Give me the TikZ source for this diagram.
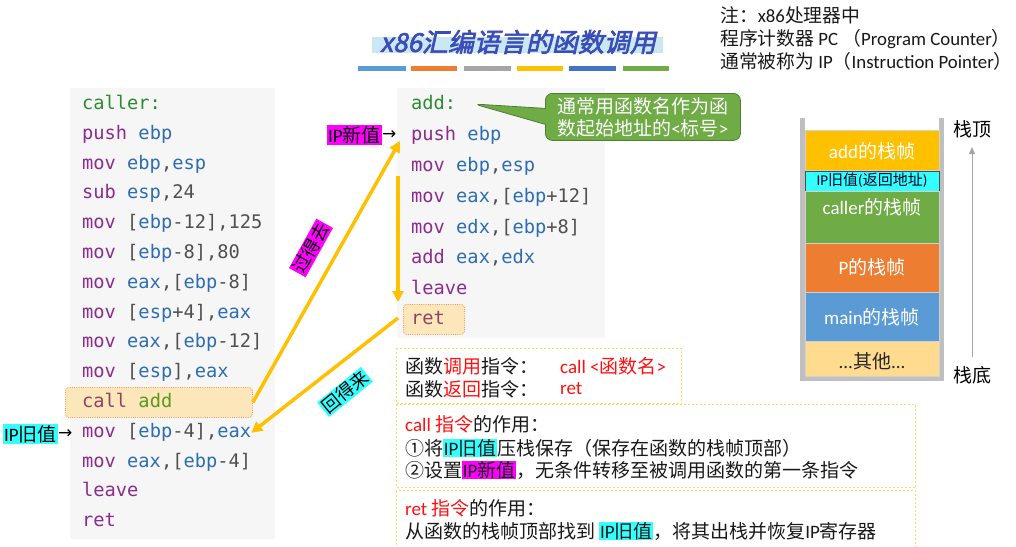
\documentclass[tikz,border=0pt]{standalone}
\usepackage{fontspec}
\setmainfont{Noto Sans CJK SC}
\setmonofont{DejaVu Sans Mono}
\newfontfamily\lat{Carlito}
\newfontfamily\titlefont[FakeBold=2.5,FakeSlant=0.22]{Noto Sans CJK SC}
\newfontfamily\dv{DejaVu Sans}
\usetikzlibrary{arrows.meta,shapes.callouts}
\definecolor{cop}{HTML}{8B2C8E}
\definecolor{creg}{HTML}{2E6DB4}
\definecolor{cnum}{HTML}{505050}
\definecolor{clab}{HTML}{2E8B30}
\definecolor{ccall}{HTML}{8E4466}
\definecolor{cadd}{HTML}{5B9A1E}
\definecolor{codebg}{HTML}{F6F6F7}
\definecolor{hlfill}{HTML}{FCE7BA}
\definecolor{hldraw}{HTML}{E8A060}
\definecolor{ygold}{HTML}{FFC000}
\definecolor{hcyan}{HTML}{33FFFF}
\definecolor{hmag}{HTML}{FF00FF}
\definecolor{cgreen}{HTML}{6FAC46}
\definecolor{cgreendk}{HTML}{4E7F30}
\definecolor{dashy}{HTML}{FFD966}
\definecolor{sorange}{HTML}{ED7D31}
\definecolor{sblue}{HTML}{5B9BD5}
\definecolor{sgray}{HTML}{A5A5A5}
\definecolor{sblue2}{HTML}{4472C4}
\definecolor{sother}{HTML}{FFDB8F}
\definecolor{titleblue}{HTML}{3A4DB8}
\definecolor{titlebg}{HTML}{C9E8F3}
\definecolor{wall}{HTML}{BFBFBF}
\definecolor{cred}{HTML}{FF1010}
\newcommand\op[1]{\textcolor{cop}{#1}}
\newcommand\rg[1]{\textcolor{creg}{#1}}
\newcommand\rd[1]{\textcolor{cred}{#1}}
\newcommand\hlc[1]{\begingroup\setlength{\fboxsep}{0.6pt}\colorbox{hcyan}{#1}\endgroup}
\newcommand\hlm[1]{\begingroup\setlength{\fboxsep}{0.6pt}\colorbox{hmag}{#1}\endgroup}
\begin{document}
\begin{tikzpicture}[x=1pt,y=-1pt,
  code/.style={anchor=west,inner sep=0pt,text=cnum,font=\ttfamily\fontsize{18.7}{20}\selectfont,text height=13pt,text depth=4pt},
  codebox/.style={fill=codebg,draw=none,inner sep=0pt,anchor=north west},
  hlbox/.style={fill=hlfill,draw=hldraw,densely dotted,line width=0.8pt,rounded corners=3pt,inner sep=0pt,anchor=north west},
  txt/.style={anchor=west,inner sep=0pt,font=\fontsize{19}{22}\selectfont,text=black!90},
  note/.style={anchor=west,inner sep=0pt,font=\fontsize{18.8}{21}\selectfont,text=black!90},
  dbox/.style={draw=dashy,dash pattern=on 2pt off 2pt,line width=1pt,inner sep=0pt,anchor=north west},
  yarrow/.style={draw=ygold,line width=3.5pt,-{Triangle[length=11pt,width=11pt]}},
  sblk/.style={minimum width=134pt,inner sep=0pt,anchor=north west,draw=black!18,line width=0.5pt},
  slab/.style={inner sep=0pt,text=white,font=\fontsize{19}{19}\selectfont},
  alabel/.style={inner sep=1.2pt,font=\fontsize{18}{18}\selectfont,text=black}
]
\useasboundingbox (0,0) rectangle (1016,546);
\fill[white] (0,0) rectangle (1016,546);

% title
\fill[titlebg] (372,37) rectangle (663,53);
\node[inner sep=0pt,text=titleblue,font=\titlefont\fontsize{26}{26}\selectfont] (title) at (518,42) {x86汇编语言的函数调用};
\fill[sblue]   (358,66) rectangle (406,71);
\fill[sorange] (411,66) rectangle (457,71);
\fill[sgray]   (464,66) rectangle (511,71);
\fill[ygold]   (517,66) rectangle (563,71);
\fill[sblue2]  (569,66) rectangle (616,71);
\fill[cgreen]  (623,66) rectangle (669,71);

% note
\node[note] (n1) at (720,15) {注：{\lat x86}处理器中};
\node[note] (n2) at (720,39) {程序计数器 {\lat PC} （{\lat Program Counter}）};
\node[note] (n3) at (720,61) {通常被称为 {\lat IP}（{\lat Instruction Pointer}）};

% code backgrounds
\node[codebox,minimum width=205pt,minimum height=451pt] (lbg) at (70,88) {};
\node[codebox,minimum width=208pt,minimum height=250pt] (mbg) at (397,88) {};
\node[hlbox,minimum width=187pt,minimum height=30pt] (calladd) at (65,387) {};
\node[hlbox,minimum width=61pt,minimum height=30pt] (retbox) at (403,304) {};

% left code
\node[code] (l1) at (82,105) {\textcolor{clab}{caller:}};
\node[code] (l2) at (82,134.8) {\op{push} \rg{ebp}};
\node[code] (l3) at (82,164.6) {\op{mov} \rg{ebp},\rg{esp}};
\node[code] (l4) at (82,194.4) {\op{sub} \rg{esp},24};
\node[code] (l5) at (82,224.2) {\op{mov} [\rg{ebp}-12],125};
\node[code] (l6) at (82,254) {\op{mov} [\rg{ebp}-8],80};
\node[code] (l7) at (82,283.8) {\op{mov} \rg{eax},[\rg{ebp}-8]};
\node[code] (l8) at (82,313.6) {\op{mov} [\rg{esp}+4],\rg{eax}};
\node[code] (l9) at (82,343.4) {\op{mov} \rg{eax},[\rg{ebp}-12]};
\node[code] (l10) at (82,373.2) {\op{mov} [\rg{esp}],\rg{eax}};
\node[code] (l11) at (82,403) {\textcolor{ccall}{call} \textcolor{cadd}{add}};
\node[code] (l12) at (82,432.8) {\op{mov} [\rg{ebp}-4],\rg{eax}};
\node[code] (l13) at (82,462.6) {\op{mov} \rg{eax},[\rg{ebp}-4]};
\node[code] (l14) at (82,492.4) {\op{leave}};
\node[code] (l15) at (82,522.2) {\op{ret}};

% middle code
\node[code] (m1) at (411,105) {\textcolor{clab}{add:}};
\node[code] (m2) at (411,136) {\op{push} \rg{ebp}};
\node[code] (m3) at (411,167) {\op{mov} \rg{ebp},\rg{esp}};
\node[code] (m4) at (411,197.5) {\op{mov} \rg{eax},[\rg{ebp}+12]};
\node[code] (m5) at (411,228.5) {\op{mov} \rg{edx},[\rg{ebp}+8]};
\node[code] (m6) at (411,259) {\op{add} \rg{eax},\rg{edx}};
\node[code] (m7) at (411,289.5) {\op{leave}};
\node[code] (m8) at (411,320) {\textcolor{ccall}{ret}};

% IP labels
\node[anchor=west,fill=hcyan,inner sep=1pt,font=\fontsize{19}{19}\selectfont] (ipold) at (3,434) {{\lat IP}旧值};
\node[anchor=west,inner sep=0pt,font=\dv\fontsize{17}{17}\selectfont] (ipoldarr) at (ipold.east) {→};
\node[anchor=west,fill=hmag,inner sep=1pt,font=\fontsize{19}{19}\selectfont] (ipnew) at (327,135) {{\lat IP}新值};
\node[anchor=west,inner sep=0pt,font=\dv\fontsize{17}{17}\selectfont] (ipnewarr) at (ipnew.east) {→};

% callout
\coordinate (addtip) at (474,104);
\node[rectangle callout,callout absolute pointer={(addtip)},callout pointer width=16pt,
  fill=cgreen,draw=cgreendk,line width=0.8pt,rounded corners=7pt,anchor=north west,
  minimum width=195pt,minimum height=47pt,inner xsep=9pt,inner ysep=2pt,align=left,text=white,
  font=\fontsize{19}{22}\selectfont] (callout) at (545,93) {通常用函数名作为函\\数起始地址的{\lat <}标号{\lat >}};

% yellow arrows
\coordinate (goTip) at (400,141);
\coordinate (dTop) at (398,176);
\coordinate (dBot) at (398,302);
\coordinate (backStart) at (398,318);
\draw[yarrow] (calladd.east) -- (goTip);
\draw[yarrow] (dTop) -- (dBot);
\draw[yarrow] (backStart) -- (l12.east);
\node[alabel,fill=hmag,rotate=61] (golab) at (311,248) {过得去};
\node[alabel,fill=hcyan,rotate=39] (backlab) at (345,392) {回得来};

% stack
\draw[wall,line width=4.5pt] (802.5,118) -- (802.5,379) -- (941.5,379) -- (941.5,118);
\node[sblk,fill=ygold,minimum height=40pt] (sadd) at (805,130) {};
\node[sblk,fill=hcyan,draw=black!70,line width=0.8pt,minimum height=20pt] (sip) at (805,170.5) {};
\node[sblk,fill=cgreen,minimum height=52pt] (scaller) at (805,191) {};
\node[sblk,fill=sorange,minimum height=49pt] (sp) at (805,243) {};
\node[sblk,fill=sblue,minimum height=49pt] (smain) at (805,292) {};
\node[sblk,fill=sother,minimum height=35pt] (sother) at (805,341) {};
\node[slab] (tadd) at (872,151) {{\lat add}的栈帧};
\node[slab,text=black!85!blue,font=\fontsize{15}{15}\selectfont] (tip) at (872,180.5) {{\lat IP}旧值{\lat (}返回地址{\lat )}};
\node[slab] (tcaller) at (872,207) {{\lat caller}的栈帧};
\node[slab] (tp) at (872,267) {{\lat P}的栈帧};
\node[slab] (tmain) at (872,317) {{\lat main}的栈帧};
\node[slab,text=black!85] (tother) at (872,361) {{\lat ...}其他{\lat ...}};
\node[inner sep=0pt,font=\fontsize{19}{19}\selectfont] (stop) at (972,129) {栈顶};
\node[inner sep=0pt,font=\fontsize{19}{19}\selectfont] (sbot) at (972,375) {栈底};
\coordinate (stkBot) at (972,357);
\coordinate (stkTop) at (972,147);
\draw[black!35,line width=1pt,-{Triangle[length=7pt,width=6pt]}] (stkBot) -- (stkTop);

% bottom boxes
\node[dbox,minimum width=285pt,minimum height=55pt] (b1) at (396,348) {};
\node[dbox,minimum width=519pt,minimum height=83pt] (b2) at (396,404) {};
\node[dbox,minimum width=519pt,minimum height=70pt] (b3) at (396,490) {};
\node[txt] (b1a) at (405,366) {函数\rd{调用}指令：};
\node[txt] (b1b) at (560,366) {\rd{{\lat call <}函数名{\lat >}}};
\node[txt] (b1c) at (405,389) {函数\rd{返回}指令：};
\node[txt] (b1d) at (560,389) {\rd{{\lat ret}}};
\node[txt] (b2a) at (405,424) {\rd{{\lat call} 指令}的作用：};
\node[txt] (b2b) at (405,448) {①将\hlc{{\lat IP}旧值}压栈保存（保存在函数的栈帧顶部）};
\node[txt] (b2c) at (405,470) {②设置\hlm{{\lat IP}新值}，无条件转移至被调用函数的第一条指令};
\node[txt] (b3a) at (405,508) {\rd{{\lat ret} 指令}的作用：};
\node[txt] (b3b) at (405,531) {从函数的栈帧顶部找到 \hlc{{\lat IP}旧值}，将其出栈并恢复{\lat IP}寄存器};
\end{tikzpicture}
\end{document}
